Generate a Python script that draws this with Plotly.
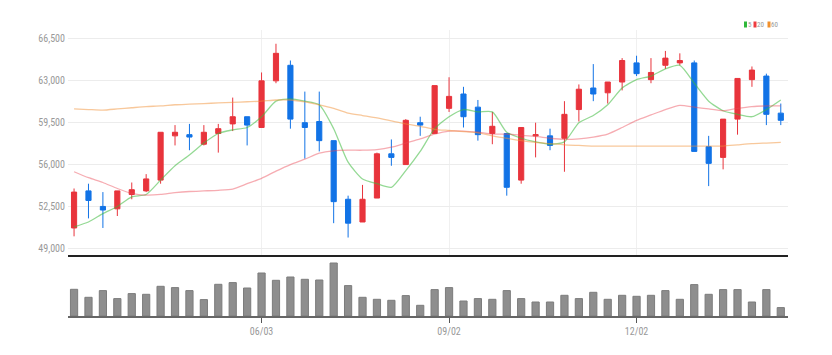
import plotly.graph_objects as go

# ---------------- data ----------------
dates = [
    "2024-03-04", "2024-03-11", "2024-03-18", "2024-03-25", "2024-04-01", "2024-04-08", "2024-04-15",
    "2024-04-22", "2024-04-29", "2024-05-06", "2024-05-13", "2024-05-20", "2024-05-27", "2024-06-03",
    "2024-06-10", "2024-06-17", "2024-06-24", "2024-07-01", "2024-07-08", "2024-07-15", "2024-07-22",
    "2024-07-29", "2024-08-05", "2024-08-12", "2024-08-19", "2024-08-26", "2024-09-02", "2024-09-09",
    "2024-09-16", "2024-09-23", "2024-09-30", "2024-10-07", "2024-10-14", "2024-10-21", "2024-10-28",
    "2024-11-04", "2024-11-11", "2024-11-18", "2024-11-25", "2024-12-02", "2024-12-09", "2024-12-16",
    "2024-12-23", "2024-12-30", "2025-01-06", "2025-01-13", "2025-01-20", "2025-01-27", "2025-02-03",
    "2025-02-10",
]

opens = [50700, 53800, 52500, 52300, 53500, 53800, 54700, 58400, 58500, 57700,
         58600, 59400, 60000, 59100, 63000, 64300, 59500, 59600, 58000, 53100,
         51200, 53200, 56900, 56000, 59500, 58600, 60700, 61900, 60800, 58600,
         58600, 54700, 58400, 58400, 58200, 60600, 62400, 62000, 62900, 64500,
         63100, 64300, 64500, 64500, 57500, 56600, 59800, 63100, 63400, 60300]

highs = [54000, 54400, 53700, 53800, 54500, 55200, 58700, 59300, 59400, 59300,
         59400, 61600, 60000, 63700, 66100, 64700, 62100, 62100, 58000, 53400,
         54300, 57000, 58100, 59800, 60000, 62600, 63300, 62500, 61400, 60400,
         58600, 59100, 59500, 59000, 61300, 62700, 64400, 62900, 64900, 65100,
         64900, 65500, 65300, 64700, 58400, 59800, 63200, 64200, 63600, 61100]

lows = [50000, 51500, 50700, 51700, 53100, 53700, 54400, 57600, 57200, 57600,
        57000, 58800, 57600, 59100, 62800, 59000, 56500, 57100, 51100, 49900,
        51200, 53200, 55900, 56000, 58400, 58600, 60400, 59100, 58000, 57700,
        53400, 54400, 56600, 57200, 55400, 59600, 61300, 61100, 62200, 63400,
        62800, 64000, 64300, 57100, 54200, 55600, 58500, 62500, 59300, 59300]

closes = [53700, 53000, 52200, 53800, 53900, 54800, 58700, 58700, 58300, 58700,
          59000, 60000, 59300, 63000, 65300, 59800, 59100, 58000, 52900, 51100,
          53100, 56900, 56600, 59700, 59300, 62600, 61700, 60000, 58500, 59200,
          54100, 59100, 58500, 57600, 60200, 62300, 61900, 62900, 64700, 63600,
          63700, 64900, 64700, 57100, 56100, 59800, 63200, 63900, 60200, 59700]

ma5 = [50800, 51200, 51900, 52500, 53300, 53500, 54700, 55900, 56800, 57800,
       58600, 58900, 59100, 60000, 61300, 61500, 61300, 61000, 59000, 56200,
       54800, 54400, 54100, 55500, 57100, 59000, 60000, 60600, 60400, 60400,
       58700, 58200, 57900, 57700, 57900, 59500, 60100, 61000, 62400, 63100,
       63400, 64000, 64300, 62800, 61300, 60500, 60200, 60000, 60600, 61400]

ma20 = [55400, 54900, 54500, 54000, 53600, 53450, 53500, 53650, 53750, 53800,
        53850, 53950, 54400, 54850, 55450, 56000, 56450, 56950, 57150, 57200,
        57200, 57250, 57450, 57800, 58150, 58550, 58800, 58800, 58700, 58550,
        58550, 58450, 58350, 58200, 58100, 58150, 58300, 58550, 59100, 59700,
        60150, 60600, 60950, 60800, 60650, 60500, 60700, 60850, 60900, 60900]

ma60 = [60650, 60600, 60550, 60650, 60750, 60850, 60900, 61000, 61050, 61100,
        61150, 61200, 61250, 61300, 61400, 61400, 61250, 61000, 60700, 60300,
        60100, 59900, 59650, 59400, 59200, 58950, 58850, 58750, 58650, 58400,
        58200, 58000, 57850, 57750, 57650, 57600, 57550, 57550, 57550, 57550,
        57550, 57550, 57550, 57550, 57550, 57550, 57650, 57750, 57800, 57850]

volumes = [267, 187, 254, 174, 224, 217, 297, 284, 254, 164,
           317, 334, 280, 430, 357, 390, 367, 360, 530, 304,
           187, 167, 157, 204, 107, 264, 284, 150, 174, 167,
           254, 174, 140, 140, 207, 174, 237, 167, 207, 197,
           207, 254, 167, 314, 217, 264, 264, 140, 264, 84]  # thousand shares

price_ticks = [49000, 52500, 56000, 59500, 63000, 66500]
date_tick_vals = ["2024-06-03", "2024-09-02", "2024-12-02"]
date_tick_text = ["06/03", "09/02", "12/02"]
legend_labels = ["5", "20", "60"]

# ---------------- style ----------------
RED = "#e8343c"
BLUE = "#1273e6"
LEG_COLORS = ["#2fb83a", "#ee3b40", "#f0902c"]
MA_COLORS = ["rgba(60,185,60,0.55)", "rgba(236,70,85,0.45)", "rgba(242,145,55,0.5)"]
FONT = "Liberation Sans Narrow, Roboto Condensed, DejaVu Sans Condensed, Roboto, sans-serif"

# the page body adds an 8px margin, so the figure is drawn 8px right/down
OFF = 8
W, H = 832 - OFF, 355 - OFF
# desired plot area in screen pixels: x 68..788, y 30..316
ML, MR = 68 - OFF, W - (788 - OFF)
MT, MB = 30 - OFF, H - (316 - OFF)
PW, PH = W - ML - MR, H - MT - MB


def px_x(sx):
    """screen x -> paper fraction"""
    return (sx - OFF - ML) / PW


def px_y(sy):
    """screen y -> paper fraction"""
    return (H - MB - (sy - OFF)) / PH


fig = go.Figure()

fig.add_trace(go.Candlestick(
    x=dates, open=opens, high=highs, low=lows, close=closes,
    increasing=dict(line=dict(color=RED, width=1), fillcolor=RED),
    decreasing=dict(line=dict(color=BLUE, width=1), fillcolor=BLUE),
    whiskerwidth=0, showlegend=False, xaxis="x", yaxis="y",
))

for vals, col in zip([ma5, ma20, ma60], MA_COLORS):
    fig.add_trace(go.Scatter(
        x=dates, y=vals, mode="lines",
        line=dict(color=col, width=1.3, shape="spline", smoothing=0.6),
        showlegend=False, xaxis="x", yaxis="y", hoverinfo="skip",
    ))

fig.add_trace(go.Bar(
    x=dates, y=volumes, marker=dict(color="#8e8e8e", line=dict(color="#7c7c7c", width=1)),
    showlegend=False, xaxis="x2", yaxis="y2",
))

xrange = [-0.42, 49.5]
price_bottom = px_y(255)
vol_top = px_y(258)

fig.update_layout(
    template="none",
    width=W, height=H,
    margin=dict(l=ML, r=MR, t=MT, b=MB, pad=0),
    paper_bgcolor="white", plot_bgcolor="white",
    bargap=0.5, boxgap=0.49,
    hovermode=False,
    font=dict(family=FONT, color="#999999", size=10),
    xaxis=dict(
        domain=[0, 1], anchor="y", type="category", range=xrange,
        rangeslider=dict(visible=False), automargin=False,
        tickvals=date_tick_vals, showticklabels=False, ticks="",
        showgrid=True, gridcolor="#f0f0f0", gridwidth=1,
        showline=True, linecolor="#222222", linewidth=2,
        zeroline=False, fixedrange=True,
    ),
    yaxis=dict(
        domain=[price_bottom, 1], anchor="x", automargin=False,
        range=[48440, 67250], tickvals=price_ticks, tickformat=",",
        showgrid=True, gridcolor="#ececec", gridwidth=1,
        zeroline=False, showline=False, ticks="",
        tickfont=dict(family=FONT, size=10, color="#999999"),
        ticklabelstandoff=2,
    ),
    xaxis2=dict(
        domain=[0, 1], anchor="y2", type="category", range=xrange, automargin=False,
        tickvals=date_tick_vals, ticktext=date_tick_text,
        ticks="outside", ticklen=5, tickcolor="#555555", tickwidth=1,
        showline=True, linecolor="#666666", linewidth=2,
        showgrid=False, zeroline=False,
        tickfont=dict(family=FONT, size=10, color="#999999"),
    ),
    yaxis2=dict(
        domain=[0, vol_top], anchor="x2", range=[0, 580], visible=False, automargin=False,
    ),
)

# custom legend: small coloured bars followed by the MA period
leg_sq_x = [744, 753.5, 767.5]
leg_tx_x = [747.5, 757, 771]
for lab, col, sx, tx in zip(legend_labels, LEG_COLORS, leg_sq_x, leg_tx_x):
    fig.add_shape(type="rect", xref="paper", yref="paper",
                  x0=px_x(sx), x1=px_x(sx + 3), y0=px_y(27.5), y1=px_y(21.5),
                  fillcolor=col, line=dict(width=0))
    fig.add_annotation(text=lab, xref="paper", yref="paper", x=px_x(tx), y=px_y(24.5),
                       xanchor="left", yanchor="middle", showarrow=False,
                       borderpad=0, borderwidth=0,
                       font=dict(family=FONT, size=7, color="#999999"))

fig.write_html("out.html")
